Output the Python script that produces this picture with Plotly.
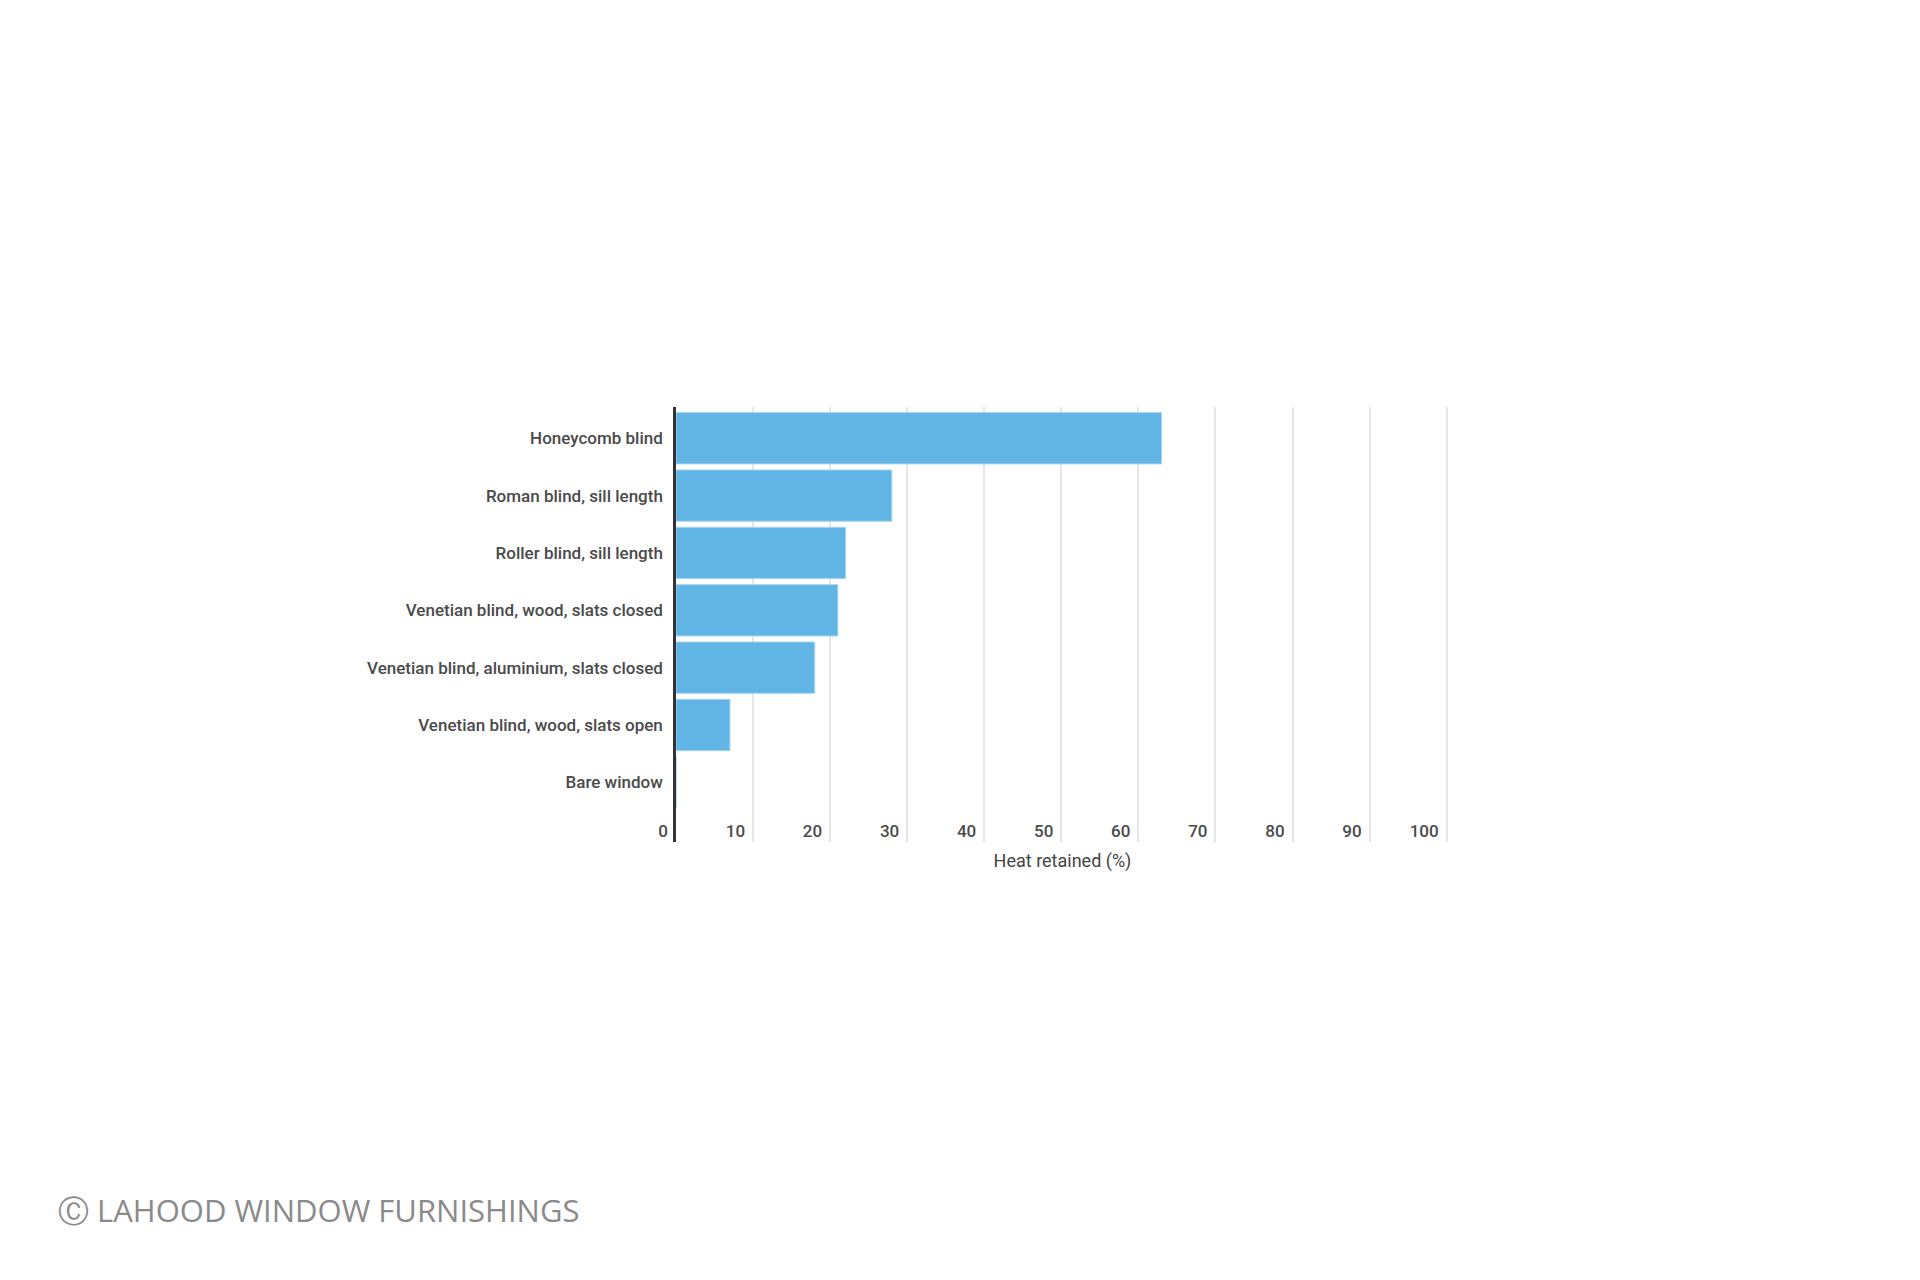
import plotly.graph_objects as go

categories = [
    "Honeycomb blind",
    "Roman blind, sill length",
    "Roller blind, sill length",
    "Venetian blind, wood, slats closed",
    "Venetian blind, aluminium, slats closed",
    "Venetian blind, wood, slats open",
    "Bare window",
]
heat_retained = [63, 28, 22, 21, 18, 7, 0]
x_ticks = [0, 10, 20, 30, 40, 50, 60, 70, 80, 90, 100]
x_title = "Heat retained (%)"
credit = "\u24b8 LAHOOD WINDOW FURNISHINGS"

OFF = 8  # default page body margin
W, H = 1920 - 2 * OFF, 1280 - 2 * OFF
X_MAX = 100.3
PX_PER_UNIT = (1447 - 676) / 100
L, T, B = 676 - OFF, 407 - OFF, 842 - OFF
R = L + PX_PER_UNIT * X_MAX


def px_x(p):
    return (p - OFF - L) / (R - L)


def px_y(p):
    return (B - (p - OFF)) / (B - T)


fig = go.Figure(
    go.Bar(
        x=heat_retained,
        y=categories,
        orientation="h",
        marker=dict(color="#61b5e4", line=dict(color="#a6d6f1", width=1)),
        hoverinfo="x+y",
    )
)

fig.update_layout(
    width=W,
    height=H,
    margin=dict(l=L, r=W - R, t=T, b=H - B, autoexpand=False),
    paper_bgcolor="white",
    plot_bgcolor="white",
    bargap=0.105,
    showlegend=False,
    font=dict(family="Roboto, sans-serif", color="#444444"),
    xaxis=dict(
        range=[0, X_MAX],
        tickvals=x_ticks,
        ticktext=[str(v) for v in x_ticks],
        ticklabelposition="inside left",
        ticklabeloverflow="allow",
        ticklabelshift=-8,
        ticklabelstandoff=-4,
        ticks="",
        showgrid=True,
        gridcolor="#e6e6e6",
        gridwidth=1.5,
        zeroline=False,
        showline=False,
        tickfont=dict(size=17, color="#4a4a4a", weight=500),
        title=dict(text=x_title, font=dict(size=18, color="#444444"), standoff=14),
        automargin=False,
        fixedrange=True,
    ),
    yaxis=dict(
        categoryorder="array",
        categoryarray=categories,
        range=[6 + 1.04, -0.545],
        showline=True,
        linecolor="#333333",
        linewidth=2.5,
        showgrid=False,
        zeroline=False,
        ticks="",
        ticklabelstandoff=7,
        tickfont=dict(size=17, color="#4a4a4a", weight=500),
        automargin=False,
        fixedrange=True,
    ),
    annotations=[
        dict(
            text=credit,
            xref="paper",
            yref="paper",
            x=px_x(56),
            y=px_y(1210),
            xanchor="left",
            yanchor="middle",
            showarrow=False,
            font=dict(family="Open Sans, sans-serif", size=31, color="#8a8a8a"),
        )
    ],
)

fig.write_html("out.html")
